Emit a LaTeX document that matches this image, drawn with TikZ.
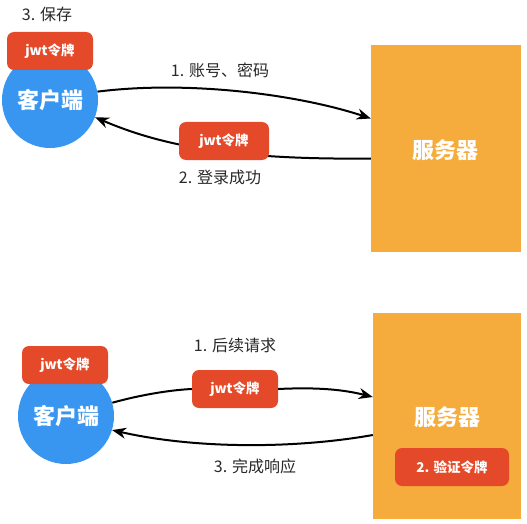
\documentclass[tikz,border=0pt]{standalone}
\usepackage{fontspec}
\setmainfont{Noto Sans CJK SC}
\usetikzlibrary{arrows.meta}
\definecolor{clientblue}{RGB}{56,150,240}
\definecolor{tokenred}{RGB}{228,74,42}
\definecolor{serverorange}{RGB}{245,172,60}
\definecolor{labelgray}{RGB}{40,40,40}
\begin{document}
\begin{tikzpicture}[x=1pt,y=-1pt,
  client/.style={circle,fill=clientblue,text=white,minimum size=96pt,inner sep=0pt,font=\fontsize{22}{22}\selectfont\bfseries},
  server/.style={fill=serverorange,text=white,inner sep=0pt,font=\fontsize{22}{22}\selectfont\bfseries},
  token/.style={fill=tokenred,text=white,rounded corners=7pt,minimum width=86pt,minimum height=38pt,inner sep=0pt,font=\fontsize{13.5}{13.5}\selectfont\bfseries},
  lbl/.style={text=labelgray,inner sep=0pt,font=\fontsize{16}{16}\selectfont},
  arr/.style={-{Stealth[length=14pt,width=11pt]},line width=2pt,black}]
  \useasboundingbox (0,0) rectangle (527,524);

  % login
  \node[lbl] (save) at (47,14) {3. 保存};
  \node[client] (client1) at (50,100) {客户端};
  \node[server,minimum width=150pt,minimum height=207pt] (server1) at (446,148.5) {};
  \node[text=white,font=\fontsize{22}{22}\selectfont\bfseries] (srvtxt1) at (445,150) {服务器};
  \node[lbl] (login) at (220,70) {1. 账号、密码};
  \node[lbl] (ok) at (220,177) {2. 登录成功};
  \draw[arr] (client1.10) .. controls (190,80) and (300,95) .. ([yshift=30pt]server1.west);
  \draw[arr] ([yshift=-10pt]server1.west) .. controls (230,160) and (160,145) .. (client1.-21);
  \node[token] (jwt1) at (50,51) {jwt令牌};
  \node[token,minimum width=90pt] (jwt2) at (224,141) {jwt令牌};

  % later requests
  \node[client] (client2) at (66,416) {客户端};
  \node[server,minimum width=148pt,minimum height=206pt] (server2) at (447,416) {};
  \node[text=white,font=\fontsize{22}{22}\selectfont\bfseries] (srvtxt2) at (447,417) {服务器};
  \node[token,minimum width=114pt] (check) at (452,467) {2. 验证令牌};
  \node[token] (jwt3) at (65,365) {jwt令牌};
  \node[token] (jwt4) at (235,389) {jwt令牌};
  \node[lbl] (req) at (235,345) {1. 后续请求};
  \node[lbl] (resp) at (255,466) {3. 完成响应};
  \draw[line width=2pt] (client2.16) .. controls (140,395) and (170,390) .. (jwt4.west);
  \draw[arr] (jwt4.east) .. controls (320,387) and (345,390) .. ([yshift=19pt]server2.west);
  \draw[arr] ([yshift=-19pt]server2.west) .. controls (300,448) and (200,450) .. (client2.-17);
\end{tikzpicture}
\end{document}
